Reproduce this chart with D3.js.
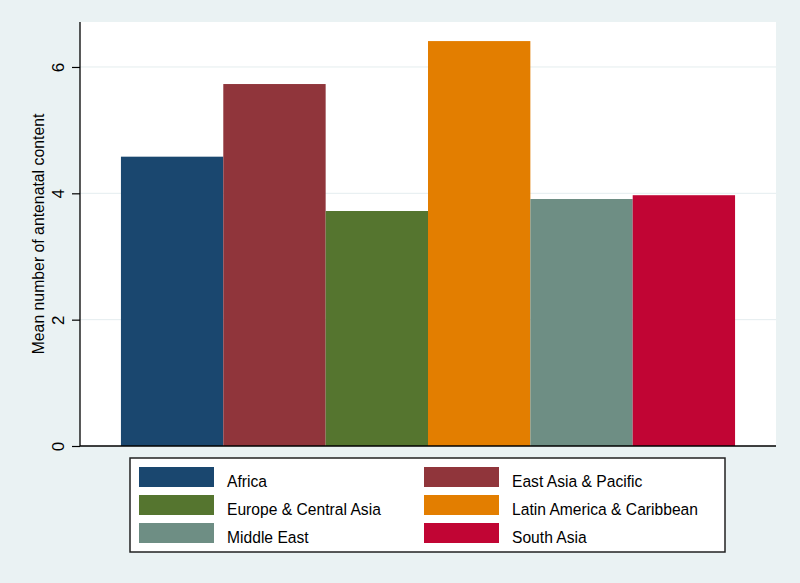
<!DOCTYPE html>
<html>
<head>
<meta charset="utf-8">
<script src="https://cdn.jsdelivr.net/npm/d3@7"></script>
<style>
  html, body { margin: 0; padding: 0; background: #EAF2F3; }
  svg { display: block; font-family: "Liberation Sans", Arial, Helvetica, sans-serif; }
</style>
</head>
<body>
<script>
const categories = ["Africa", "East Asia & Pacific", "Europe & Central Asia", "Latin America & Caribbean", "Middle East", "South Asia"];
const values = [4.58, 5.73, 3.72, 6.41, 3.91, 3.97];
const colors = ["#1a476f", "#90353b", "#55752f", "#e37e00", "#6e8e84", "#c10534"];
const yTicks = [0, 2, 4, 6];
const yLabel = "Mean number of antenatal content";

const W = 800, H = 583;
const plot = { left: 80, right: 776, top: 22, bottom: 446 };

const svg = d3.select("body").append("svg").attr("width", W).attr("height", H);
svg.append("rect").attr("width", W).attr("height", H).attr("fill", "#EAF2F3");
svg.append("rect")
  .attr("x", plot.left).attr("y", plot.top)
  .attr("width", plot.right - plot.left).attr("height", plot.bottom - plot.top)
  .attr("fill", "#ffffff");

const y = d3.scaleLinear().domain([0, 6.712]).range([plot.bottom, plot.top]);
const x = d3.scaleBand().domain(categories).range([plot.left, plot.right]).paddingInner(0).paddingOuter(0.4);

// gridlines
svg.append("g").selectAll("line").data(yTicks.filter(d => d > 0)).join("line")
  .attr("x1", plot.left).attr("x2", plot.right)
  .attr("y1", d => y(d)).attr("y2", d => y(d))
  .attr("stroke", "#E4EDEF").attr("stroke-width", 1);

// bars
svg.append("g").selectAll("rect").data(categories).join("rect")
  .attr("x", d => x(d)).attr("width", x.bandwidth())
  .attr("y", (d, i) => y(values[i]))
  .attr("height", (d, i) => y(0) - y(values[i]))
  .attr("fill", (d, i) => colors[i]);

// y axis
const yAxis = d3.axisLeft(y).tickValues(yTicks).tickSize(8).tickPadding(4).tickFormat(d3.format("d"));
const gy = svg.append("g").attr("transform", `translate(${plot.left},0)`).call(yAxis);
gy.select(".domain").attr("stroke", "#000").attr("stroke-width", 1.3).attr("d", `M0,${plot.top}V${plot.bottom}`);
gy.selectAll(".tick line").attr("stroke", "#000").attr("stroke-width", 1.2);
gy.selectAll(".tick text")
  .attr("x", null).attr("dy", null)
  .attr("text-anchor", "middle")
  .attr("transform", "translate(-16,0) rotate(-90)")
  .attr("y", 0)
  .attr("font-size", 17)
  .attr("font-family", "Liberation Sans, Arial, sans-serif")
  .attr("fill", "#000");

// x axis baseline
const xAxis = d3.axisBottom(x).tickSize(0).tickFormat("");
const gx = svg.append("g").attr("transform", `translate(0,${plot.bottom})`).call(xAxis);
gx.select(".domain").attr("stroke", "#000").attr("stroke-width", 1.3).attr("d", `M${plot.left},0H${plot.right}`);

// y label
svg.append("text")
  .attr("transform", `translate(43.5,${(plot.top + plot.bottom) / 2}) rotate(-90) scale(0.93,1)`)
  .attr("text-anchor", "middle")
  .attr("font-size", 17)
  .attr("fill", "#000")
  .text(yLabel);

// legend
const legend = svg.append("g");
legend.append("rect")
  .attr("x", 130).attr("y", 458).attr("width", 595).attr("height", 94)
  .attr("fill", "#fff").attr("stroke", "#222").attr("stroke-width", 1.5);
const colX = [139, 424];
const rowY = [467, 495, 523];
const items = legend.selectAll("g.item").data(categories).join("g").attr("class", "item")
  .attr("transform", (d, i) => `translate(${colX[i % 2]},${rowY[Math.floor(i / 2)]})`);
items.append("rect").attr("width", 75).attr("height", 20).attr("fill", (d, i) => colors[i]);
items.append("text")
  .attr("transform", "translate(88,20) scale(0.92,1)")
  .attr("font-size", 17).attr("fill", "#000").text(d => d);
</script>
</body>
</html>
